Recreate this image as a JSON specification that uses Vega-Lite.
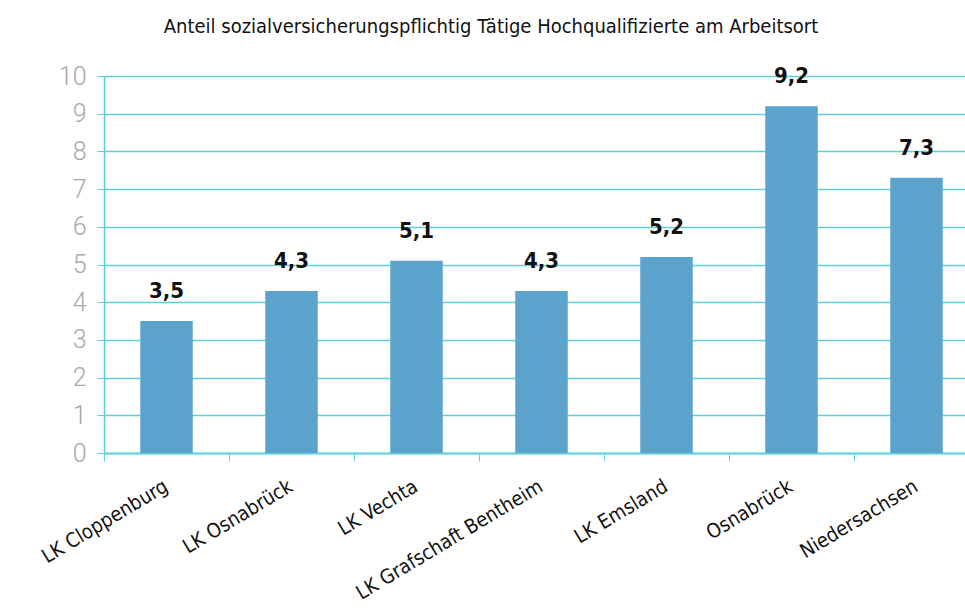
{
  "$schema": "https://vega.github.io/schema/vega-lite/v6.json",
  "width": 858,
  "height": 377,
  "autosize": {"type": "none"},
  "padding": {"left": 104, "top": 76, "right": 3, "bottom": 155},
  "background": "white",
  "config": {
    "view": {"stroke": null},
    "locale": {"number": {"decimal": ",", "thousands": ".", "grouping": [3], "currency": ["", " €"]}}
  },
  "title": {
    "text": "Anteil sozialversicherungspflichtig Tätige Hochqualifizierte am Arbeitsort",
    "anchor": "middle",
    "dx": -42,
    "offset": 27,
    "font": "DejaVu Sans Condensed, Roboto, sans-serif",
    "fontSize": 20,
    "fontWeight": "normal",
    "color": "#111111"
  },
  "data": {
    "values": [
      {"region": "LK Cloppenburg", "wert": 3.5},
      {"region": "LK Osnabrück", "wert": 4.3},
      {"region": "LK Vechta", "wert": 5.1},
      {"region": "LK Grafschaft Bentheim", "wert": 4.3},
      {"region": "LK Emsland", "wert": 5.2},
      {"region": "Osnabrück", "wert": 9.2},
      {"region": "Niedersachsen", "wert": 7.3}
    ]
  },
  "encoding": {
    "x": {
      "field": "region",
      "type": "nominal",
      "sort": null,
      "scale": {"range": [0, 875], "paddingInner": 0, "paddingOuter": 0},
      "axis": {
        "title": null,
        "tickBand": "extent",
        "labelAngle": -31,
        "labelAlign": "right",
        "labelBaseline": "top",
        "labelPadding": 15,
        "labelOffset": -6,
        "labelFont": "DejaVu Sans Condensed, Roboto, sans-serif",
        "labelFontSize": 20,
        "labelColor": "#111111",
        "labelLimit": 400,
        "labelOverlap": false,
        "domainColor": "#66D3D8",
        "domainWidth": 2,
        "tickColor": "#66D3D8",
        "tickSize": 8,
        "grid": false
      }
    },
    "y": {
      "field": "wert",
      "type": "quantitative",
      "scale": {"domain": [0, 10], "nice": false},
      "axis": {
        "title": null,
        "values": [0, 1, 2, 3, 4, 5, 6, 7, 8, 9, 10],
        "labelOverlap": false,
        "grid": true,
        "gridColor": "#5DCFD5",
        "gridWidth": 1.5,
        "domainColor": "#5DCFD5",
        "domainWidth": 1.5,
        "tickColor": "#5DCFD5",
        "tickSize": 7,
        "labelFont": "Roboto",
        "labelFontWeight": 300,
        "labelFontSize": 25,
        "labelColor": "#A8A8A8",
        "labelPadding": 11
      }
    }
  },
  "layer": [
    {
      "mark": {"type": "bar", "color": "#5BA3CC", "width": {"band": 0.42}}
    },
    {
      "mark": {"type": "text", "dy": -30, "font": "DejaVu Sans Condensed, Roboto, sans-serif", "fontWeight": "bold", "fontSize": 22, "color": "#111111"},
      "encoding": {
        "text": {"field": "wert", "type": "quantitative", "format": ".1f"}
      }
    }
  ]
}
